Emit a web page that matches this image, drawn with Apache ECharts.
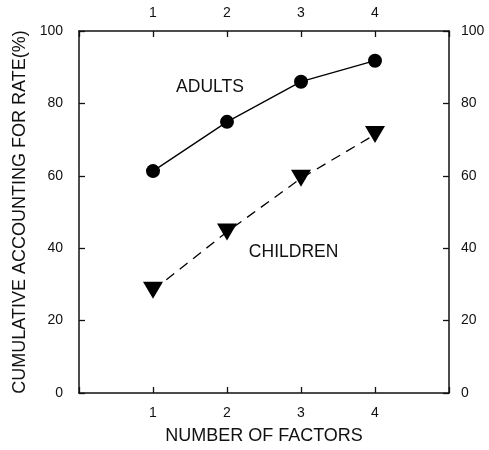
<!DOCTYPE html>
<html>
<head>
<meta charset="utf-8">
<script src="https://cdn.jsdelivr.net/npm/echarts@6/dist/echarts.min.js"></script>
<style>html,body{margin:0;padding:0;background:#fff}#c{width:489px;height:450px}</style>
</head>
<body>
<div id="c"></div>
<script>
var factors = [1, 2, 3, 4];
var adults = [61.3, 74.9, 86.0, 91.8];
var children = [28.4, 44.5, 59.3, 71.4];
var xTicks = ['1', '2', '3', '4'];
var yTicks = [0, 20, 40, 60, 80, 100];
var xTitle = 'NUMBER OF FACTORS';
var yTitle = 'CUMULATIVE ACCOUNTING FOR RATE(%)';
var adultsLabel = 'ADULTS';
var childrenLabel = 'CHILDREN';

var FONT = '"Liberation Sans", Arial, Helvetica, sans-serif';
var chart = echarts.init(document.getElementById('c'), null, {renderer: 'canvas'});

function xFmt(v) { return xTicks.indexOf(String(v)) >= 0 ? String(v) : ''; }
function yFmt(v) { return yTicks.indexOf(v) >= 0 ? String(v) : ''; }

var axisLine = {show: true, onZero: false, lineStyle: {color: '#111', width: 1.5}};
var axisTick = {show: true, inside: true, length: 6, lineStyle: {color: '#111', width: 1.3}};
var lbl = {color: '#111', fontSize: 14, fontFamily: FONT};

function pairs(ys) { return factors.map(function (f, i) { return [f, ys[i]]; }); }

chart.setOption({
  animation: false,
  backgroundColor: '#fff',
  grid: {left: 79, right: 40, top: 31, bottom: 49},
  xAxis: [
    {type: 'value', position: 'bottom', min: 0, max: 5, interval: 1,
     axisLine: axisLine, axisTick: axisTick, splitLine: {show: false},
     axisLabel: Object.assign({margin: 13, formatter: xFmt}, lbl),
     name: xTitle, nameLocation: 'middle', nameGap: 34,
     nameTextStyle: {color: '#111', fontSize: 18, fontFamily: FONT}},
    {type: 'value', position: 'top', min: 0, max: 5, interval: 1,
     axisLine: axisLine, axisTick: axisTick, splitLine: {show: false},
     axisLabel: Object.assign({margin: 11, formatter: xFmt}, lbl)}
  ],
  yAxis: [
    {type: 'value', position: 'left', min: 0, max: 100, interval: 20,
     axisLine: axisLine, axisTick: axisTick, splitLine: {show: false},
     axisLabel: Object.assign({margin: 16, formatter: yFmt}, lbl),
     name: yTitle, nameLocation: 'middle', nameGap: 47, nameRotate: 90,
     nameTextStyle: {color: '#111', fontSize: 18, fontFamily: FONT}},
    {type: 'value', position: 'right', min: 0, max: 100, interval: 20,
     axisLine: axisLine, axisTick: axisTick, splitLine: {show: false},
     axisLabel: Object.assign({margin: 12, formatter: yFmt}, lbl)}
  ],
  series: [
    {name: adultsLabel, type: 'line', data: pairs(adults),
     symbol: 'circle', symbolSize: 14,
     itemStyle: {color: '#000'}, lineStyle: {color: '#000', width: 1.3}},
    {name: childrenLabel, type: 'line', data: pairs(children),
     symbol: 'triangle', symbolRotate: 180, symbolSize: [20, 17],
     itemStyle: {color: '#000'}, lineStyle: {color: '#000', width: 1.3, type: [10, 7]}}
  ]
});

var pA = chart.convertToPixel({xAxisIndex: 0, yAxisIndex: 0}, [1.77, 84.4]);
var pC = chart.convertToPixel({xAxisIndex: 0, yAxisIndex: 0}, [2.90, 38.8]);
chart.setOption({
  graphic: [
    {type: 'text', x: pA[0], y: pA[1],
     style: {text: adultsLabel, fill: '#111', fontSize: 17.5, fontFamily: FONT, textAlign: 'center', textVerticalAlign: 'middle'}},
    {type: 'text', x: pC[0], y: pC[1],
     style: {text: childrenLabel, fill: '#111', fontSize: 17.5, fontFamily: FONT, textAlign: 'center', textVerticalAlign: 'middle'}}
  ]
});
</script>
</body>
</html>
